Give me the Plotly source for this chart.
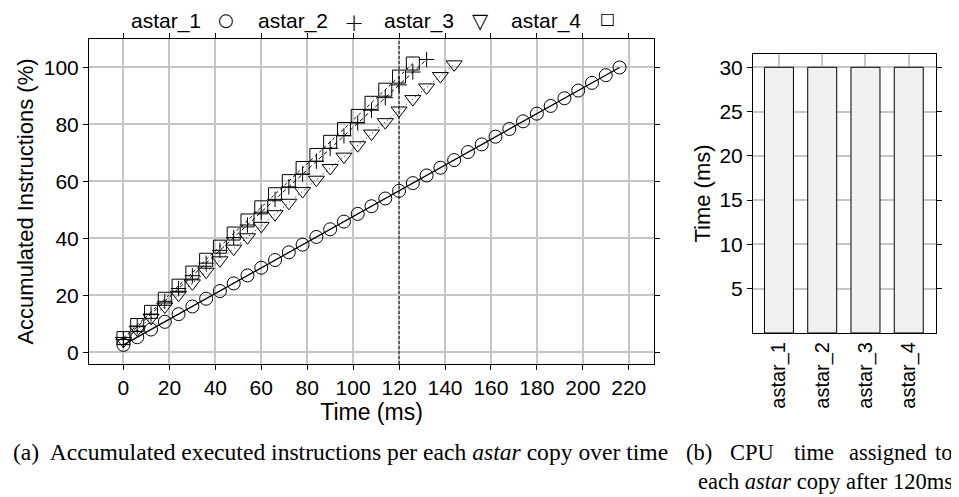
import plotly.graph_objects as go

# ---------------- data ----------------
TIME_ASTAR_1 = [0, 6, 12, 18, 24, 30, 36, 42, 48, 54, 60, 66, 72, 78, 84, 90, 96, 102,
                108, 114, 120, 126, 132, 138, 144, 150, 156, 162, 168, 174, 180, 186,
                192, 198, 204, 210, 216]
ASTAR_1 = [2.6, 5.3, 8.0, 10.7, 13.4, 16.1, 18.8, 21.5, 24.2, 27.0, 29.7, 32.4, 35.1,
           37.8, 40.5, 43.2, 45.9, 48.6, 51.3, 54.0, 56.7, 59.4, 62.1, 64.8, 67.5, 70.3,
           73.0, 75.7, 78.4, 81.1, 83.8, 86.5, 89.2, 91.9, 94.6, 97.3, 100.0]

TIME_ASTAR_2 = [0, 6, 12, 18, 24, 30, 36, 42, 48, 54, 60, 66, 72, 78, 84, 90, 96, 102,
                108, 114, 120, 126, 132]
ASTAR_2 = [4.5, 9.0, 13.4, 17.9, 22.4, 26.9, 31.3, 35.8, 40.3, 44.7, 49.2, 53.7, 58.1,
           62.6, 67.1, 71.6, 76.0, 80.5, 85.0, 89.4, 93.9, 98.4, 102.8]

TIME_ASTAR_3 = [0, 6, 12, 18, 24, 30, 36, 42, 48, 54, 60, 66, 72, 78, 84, 90, 96, 102,
                108, 114, 120, 126, 132, 138, 144]
ASTAR_3 = [4.0, 8.0, 12.1, 16.1, 20.2, 24.2, 28.3, 32.3, 36.4, 40.4, 44.4, 48.5, 52.5,
           56.6, 60.6, 64.7, 68.7, 72.7, 76.8, 80.8, 84.9, 88.9, 93.0, 97.0, 101.1]

TIME_ASTAR_4 = [0, 6, 12, 18, 24, 30, 36, 42, 48, 54, 60, 66, 72, 78, 84, 90, 96, 102,
                108, 114, 120, 126]
ASTAR_4 = [5.0, 9.6, 14.2, 18.8, 23.4, 28.0, 32.5, 37.1, 41.7, 46.3, 50.9, 55.5, 60.1,
           64.7, 69.3, 73.9, 78.4, 83.0, 87.6, 92.2, 96.8, 101.4]

REALLOC_TIME = 120
X_TICKS = [0, 20, 40, 60, 80, 100, 120, 140, 160, 180, 200, 220]
Y_TICKS = [0, 20, 40, 60, 80, 100]

CATEGORIES = ["astar_1", "astar_2", "astar_3", "astar_4"]
CPU_TIME = [30, 30, 30, 30]
Y2_TICKS = [5, 10, 15, 20, 25, 30]

# ---------------- figure ----------------
W, H = 959, 497
OFF = 8  # page body margin of the browser


def px(x):
    return (x - OFF) / W


def py(y):
    return 1 - (y - OFF) / H


SANS = "Liberation Sans, Arial, Helvetica, sans-serif"
SERIF = "Liberation Serif, Times New Roman, serif"
GRID = "#c6c6c6"

fig = go.Figure()

series = [
    (TIME_ASTAR_1, ASTAR_1, "astar_1", "circle-open", 13, "solid", 1.3),
    (TIME_ASTAR_3, ASTAR_3, "astar_3", "triangle-down-open", 14, "1px,3px", 1.0),
    (TIME_ASTAR_2, ASTAR_2, "astar_2", "cross-thin-open", 11, "4px,3px", 1.0),
    (TIME_ASTAR_4, ASTAR_4, "astar_4", "square-open", 13, "3px,3px", 1.0),
]
for t, v, name, sym, size, dash, lw in series:
    fig.add_trace(go.Scatter(
        x=t, y=v, name=name, mode="lines+markers",
        line=dict(color="black", width=lw, dash=dash),
        marker=dict(symbol=sym, size=size, color="black",
                    line=dict(color="black", width=1)),
        showlegend=False, xaxis="x", yaxis="y"))

fig.add_trace(go.Bar(
    x=CATEGORIES, y=CPU_TIME, width=0.67, xaxis="x2", yaxis="y2",
    marker=dict(color="#f0f0f0", line=dict(color="black", width=1)),
    showlegend=False))

fig.add_shape(type="line", xref="x", yref="y domain", x0=REALLOC_TIME, x1=REALLOC_TIME,
              y0=0, y1=1, line=dict(color="black", width=1, dash="3px,2px"))


def axis_common(size):
    return dict(showline=True, linecolor="black", linewidth=1, mirror="ticks",
                ticks="outside", ticklen=5, tickcolor="black", tickwidth=1,
                showgrid=True, gridcolor=GRID, gridwidth=1.5, zeroline=False,
                tickfont=dict(family=SANS, size=size, color="black"))


fig.update_layout(
    width=W, height=H,
    margin=dict(l=0, r=0, t=0, b=0),
    paper_bgcolor="white", plot_bgcolor="white",
    xaxis=dict(domain=[px(89), px(654)], range=[-15, 231], tickvals=X_TICKS,
               title=dict(text="Time (ms)", font=dict(family=SANS, size=23, color="black"),
                          standoff=0),
               anchor="y", **axis_common(21)),
    yaxis=dict(domain=[py(364), py(39)], range=[-4.1, 110], tickvals=Y_TICKS,
               title=dict(text="Accumulated Instructions (%)",
                          font=dict(family=SANS, size=22, color="black"), standoff=4),
               anchor="x", **axis_common(21)),
    xaxis2=dict(domain=[px(753), px(936)], range=[-0.6, 3.63], anchor="y2",
                showline=True, linecolor="black", linewidth=1, mirror=True,
                ticks="", showgrid=True, gridcolor=GRID, gridwidth=1.5, zeroline=False,
                tickangle=-90, tickfont=dict(family=SANS, size=20, color="black")),
    yaxis2=dict(domain=[py(333), py(54)], range=[0, 31.5], tickvals=Y2_TICKS,
                anchor="x2",
                title=dict(text="Time (ms)", font=dict(family=SANS, size=22, color="black"),
                           standoff=2),
                **axis_common(21)),
)

# legend row (text followed by symbol)
legend_items = [("astar_1", "\u25cb", 130, 226, 18, 400),
                ("astar_2", "+", 257, 354, 24, 200),
                ("astar_3", "\u25bd", 383, 480, 21, 400),
                ("astar_4", "\u25a1", 510, 607, 16, 400)]
for label, glyph, xt, xs, gsize, gweight in legend_items:
    fig.add_annotation(x=px(xt), y=1, xref="paper", yref="paper",
                       text=label, showarrow=False, xanchor="left", yanchor="top",
                       borderpad=0, font=dict(family=SANS, size=21, color="black"))
    fig.add_annotation(x=px(xs), y=1, xref="paper", yref="paper",
                       text=glyph, showarrow=False, xanchor="center", yanchor="top",
                       borderpad=0,
                       font=dict(family="DejaVu Sans, sans-serif", size=gsize,
                                 color="black", weight=gweight))

# captions
CAP = dict(family=SERIF, size=22.5, color="black")
fig.add_annotation(x=px(11), y=py(452), xref="paper", yref="paper",
                   text="(a)\u00a0 Accumulated executed instructions per each <i>astar</i> copy over time",
                   showarrow=False, xanchor="left", yanchor="middle",
                   font=dict(family=SERIF, size=23.6, color="black"))
for word, xl, anchor in [("(b)", 684, "left"), ("CPU", 728, "left"), ("time", 792, "left"),
                         ("assigned", 929, "right"), ("to", 955, "right")]:
    fig.add_annotation(x=px(xl), y=py(452), xref="paper", yref="paper",
                       text=word, showarrow=False, xanchor=anchor, yanchor="middle",
                       font=CAP)
fig.add_annotation(x=px(955), y=py(481), xref="paper", yref="paper",
                   text="each <i>astar</i> copy after 120ms",
                   showarrow=False, xanchor="right", yanchor="middle", font=CAP)

fig.write_html("out.html")
